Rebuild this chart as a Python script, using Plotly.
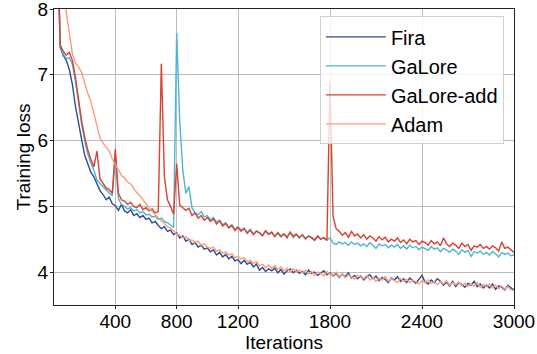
import plotly.graph_objects as go

iterations = list(range(20, 3001, 20))

fira = [
    9.4, 7.42, 7.3, 7.22, 7.08, 6.85, 6.52, 6.25, 6.02, 5.78,
    5.66, 5.52, 5.45, 5.35, 5.24, 5.18, 5.1, 5.14, 5.04, 5.01,
    4.94, 5.03, 4.93, 4.9, 4.95, 4.86, 4.89, 4.83, 4.86, 4.8,
    4.82, 4.75, 4.77, 4.71, 4.66, 4.69, 4.62, 4.64, 4.57, 4.6,
    4.52, 4.55, 4.47, 4.5, 4.42, 4.45, 4.38, 4.41, 4.35, 4.37,
    4.31, 4.34, 4.26, 4.3, 4.23, 4.27, 4.2, 4.24, 4.17, 4.19,
    4.13, 4.18, 4.12, 4.15, 4.08, 4.12, 4.03, 4.07, 4.01, 4.05,
    4.02, 4.06, 3.99, 4.04, 3.97, 4.02, 4.05, 3.99, 4.03, 3.98,
    4.01, 3.96, 4.03, 3.98, 4.0, 3.95, 3.99, 4.02, 3.96, 3.99,
    3.94, 3.98, 3.92, 3.97, 3.93, 3.99, 3.91, 3.95, 3.9, 3.94,
    3.88, 3.93, 3.96, 3.9, 3.94, 3.87, 3.92, 3.89, 3.84, 3.91,
    3.88, 3.93, 3.86, 3.9, 3.84, 3.91, 3.87, 3.83, 3.89, 3.95,
    3.85, 3.82, 3.88, 3.84, 3.9, 3.86, 3.8, 3.85, 3.79, 3.86,
    3.78, 3.84, 3.81, 3.77, 3.83, 3.8, 3.86, 3.78, 3.82, 3.76,
    3.8, 3.76, 3.82, 3.74, 3.79, 3.77, 3.73, 3.8, 3.76, 3.73,
]

galore = [
    9.5, 7.44, 7.32, 7.25, 7.26, 7.16, 6.9, 6.55, 6.25, 6.0,
    5.8, 5.66, 5.55, 5.4, 5.35, 5.3, 5.24, 5.2, 5.16, 5.74,
    5.12, 5.03, 5.0, 4.96, 4.98, 4.93, 4.95, 4.9, 4.92, 4.87,
    4.88, 4.84, 4.85, 4.8, 4.82, 4.77, 4.75, 4.72, 4.68, 7.64,
    6.3, 5.55, 5.2, 5.3, 4.98, 4.9, 4.87, 4.92, 4.84, 4.86,
    4.8, 4.83, 4.76, 4.79, 4.72, 4.75, 4.68, 4.72, 4.65, 4.69,
    4.64, 4.67, 4.6, 4.65, 4.58, 4.63, 4.59, 4.56, 4.62, 4.57,
    4.6, 4.55, 4.59, 4.53, 4.58, 4.54, 4.6, 4.52, 4.57, 4.53,
    4.56, 4.5, 4.55, 4.52, 4.48, 4.54, 4.5, 4.53, 4.49, 4.52,
    4.44, 4.42, 4.46, 4.43, 4.45, 4.41, 4.46, 4.42, 4.44, 4.4,
    4.43, 4.39, 4.45, 4.41, 4.36, 4.43, 4.4, 4.42, 4.37, 4.41,
    4.38, 4.42, 4.36, 4.4, 4.35, 4.41, 4.37, 4.39, 4.34, 4.38,
    4.36, 4.33, 4.39, 4.35, 4.37, 4.31, 4.36, 4.34, 4.3, 4.35,
    4.32, 4.27, 4.34, 4.3, 4.33, 4.24, 4.31, 4.29, 4.32, 4.27,
    4.3, 4.26, 4.31, 4.28, 4.23, 4.3, 4.27, 4.29, 4.25, 4.26,
]

galore_add = [
    9.6, 7.46, 7.36, 7.3, 7.34, 7.22, 6.96, 6.62, 6.3, 6.06,
    5.86, 5.72, 5.6, 5.84, 5.42, 5.35, 5.28, 5.25, 5.2, 5.87,
    5.2, 5.1, 5.08, 5.03, 5.06, 5.0, 4.98, 5.03, 4.95, 4.98,
    4.93, 4.96, 4.9, 4.92, 7.17, 5.45, 5.1, 5.0, 4.88, 5.65,
    5.02, 4.98, 4.94, 4.97, 4.86, 4.9, 4.82, 4.86, 4.79, 4.83,
    4.77, 4.81, 4.73, 4.78, 4.7, 4.74, 4.67, 4.71, 4.63, 4.68,
    4.62, 4.66, 4.59, 4.64, 4.57, 4.62, 4.6, 4.55, 4.63, 4.58,
    4.61, 4.54, 4.6, 4.55, 4.58, 4.52, 4.61, 4.55, 4.58, 4.52,
    4.57, 4.51, 4.55, 4.53, 4.49, 4.55, 4.5, 4.52, 4.48, 6.9,
    4.85, 4.66, 4.62, 4.56, 4.6, 4.53, 4.62, 4.55, 4.58, 4.52,
    4.57, 4.5, 4.55, 4.52, 4.47, 4.54, 4.49, 4.53, 4.46, 4.5,
    4.47, 4.52, 4.45, 4.49, 4.43, 4.5, 4.46, 4.48, 4.42, 4.47,
    4.45, 4.41, 4.48, 4.43, 4.46, 4.4, 4.52, 4.43, 4.39, 4.44,
    4.41, 4.36, 4.44, 4.39, 4.42, 4.33, 4.4, 4.38, 4.42, 4.36,
    4.39, 4.35, 4.4, 4.37, 4.32, 4.46, 4.36, 4.38, 4.34, 4.3,
]

adam = [
    10.5, 9.4, 8.5, 7.95, 7.6, 7.32, 7.18, 7.12, 7.04, 6.86,
    6.72, 6.6, 6.42, 6.22, 6.04, 5.96, 5.9, 5.84, 5.72, 5.64,
    5.55, 5.47, 5.43, 5.37, 5.34, 5.27, 5.21, 5.16, 5.09, 5.04,
    4.97, 4.92, 4.87, 4.82, 4.78, 4.74, 4.69, 4.66, 4.63, 4.58,
    4.56, 4.52, 4.54, 4.48, 4.49, 4.45, 4.47, 4.41, 4.43, 4.38,
    4.36, 4.38, 4.32, 4.34, 4.29, 4.31, 4.26, 4.28, 4.22, 4.24,
    4.2, 4.22, 4.16, 4.18, 4.13, 4.16, 4.1, 4.12, 4.07, 4.11,
    4.06, 4.1, 4.04, 4.08, 4.02, 4.06, 4.0, 4.05, 4.01, 4.03,
    3.99, 4.03, 3.97, 4.01, 3.95, 4.0, 3.98, 3.94, 4.01, 3.97,
    3.95, 4.0, 3.93, 3.97, 3.91, 3.96, 3.93, 3.89, 3.95, 3.92,
    3.9, 3.95, 3.88, 3.92, 3.86, 3.91, 3.88, 3.93, 3.86, 3.9,
    3.87, 3.84, 3.9, 3.86, 3.89, 3.84, 3.88, 3.85, 3.82, 3.87,
    3.84, 3.88, 3.83, 3.86, 3.81, 3.85, 3.82, 3.87, 3.8, 3.84,
    3.81, 3.85, 3.79, 3.83, 3.78, 3.82, 3.79, 3.84, 3.77, 3.81,
    3.78, 3.82, 3.76, 3.8, 3.75, 3.79, 3.74, 3.78, 3.73, 3.72,
]

x_ticks = [400, 800, 1200, 1800, 2400, 3000]
y_ticks = [4, 5, 6, 7, 8]

series = [
    ("Fira", fira, "#2f4c8f"),
    ("GaLore", galore, "#4db6d6"),
    ("GaLore-add", galore_add, "#d9422f"),
    ("Adam", adam, "#fc9c7e"),
]

FONT = "Liberation Sans, Arial, Helvetica, sans-serif"

fig = go.Figure()
for i, (name, vals, color) in enumerate(series):
    fig.add_trace(go.Scatter(
        x=iterations, y=vals, mode="lines", name=name,
        legendgroup=f"g{i}",
        line=dict(color=color, width=1.4),
    ))

axis_common = dict(
    showgrid=True, gridcolor="#bdbdbd", gridwidth=1,
    showline=True, linecolor="#222222", linewidth=1, mirror=True,
    ticks="outside", ticklen=3, tickcolor="#222222",
    tickfont=dict(family=FONT, size=19, color="#000000"),
    ticklabeloverflow="allow", automargin=False,
    zeroline=False,
)

fig.update_layout(
    width=537, height=354,
    margin=dict(l=54, r=23, t=9, b=49, autoexpand=False),
    paper_bgcolor="white", plot_bgcolor="white",
    font=dict(family=FONT, color="#000000"),
    showlegend=True,
    legend=dict(
        x=0.978, y=0.975, xanchor="right", yanchor="top",
        bgcolor="rgba(255,255,255,0.8)", bordercolor="#d0d0d0", borderwidth=1,
        font=dict(family=FONT, size=20, color="#000000"),
        traceorder="grouped", tracegroupgap=0, itemwidth=60,
    ),
    xaxis=dict(
        range=[0, 3000], tickvals=x_ticks, ticklabelstandoff=-4,
        title=dict(text="Iterations", font=dict(family=FONT, size=19), standoff=0),
        **axis_common,
    ),
    yaxis=dict(
        range=[3.5, 8.001], tickvals=y_ticks, ticklabelstandoff=-2,
        title=dict(text="Training loss", font=dict(family=FONT, size=19), standoff=1),
        **axis_common,
    ),
)

fig.write_html("out.html")
